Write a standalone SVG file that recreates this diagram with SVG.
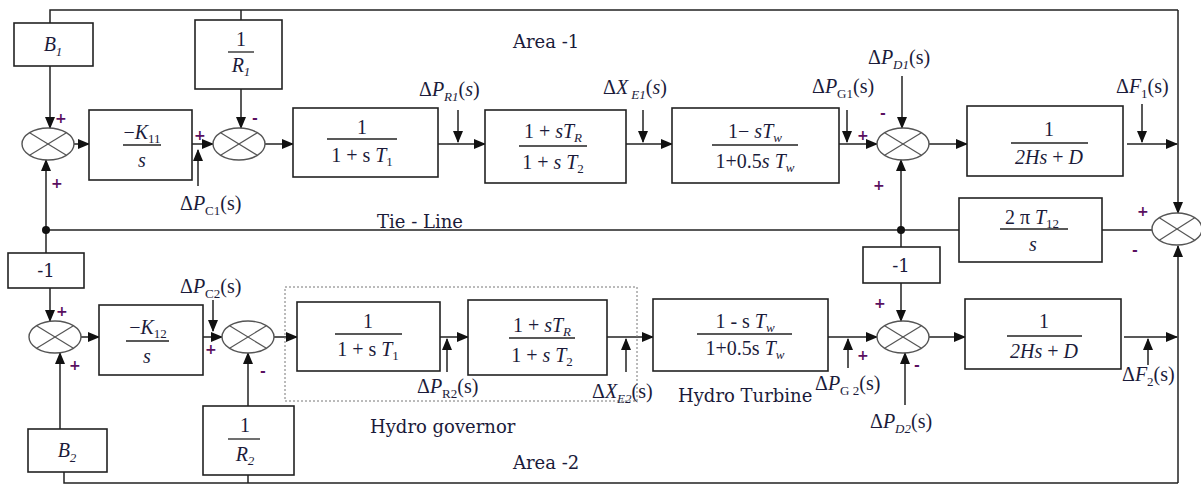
<svg xmlns="http://www.w3.org/2000/svg" width="1201" height="484" viewBox="0 0 1201 484">
<defs>
<marker id="ah" markerWidth="12" markerHeight="10" refX="11" refY="5" orient="auto" markerUnits="userSpaceOnUse">
<path d="M0,0 L12,5 L0,10 Z" fill="#111"/>
</marker>
<style>
.box{fill:#fff;stroke:#222;stroke-width:1.6}
.ln{fill:none;stroke:#222;stroke-width:1.5}
.ar{fill:none;stroke:#222;stroke-width:1.5;marker-end:url(#ah)}
.sum{fill:#fff;stroke:#555;stroke-width:1.4}
.x{stroke:#555;stroke-width:1.2}
.fr{stroke:#222;stroke-width:1.3}
.m{font-family:"Liberation Serif","DejaVu Serif",serif;font-size:20px;fill:#1b1b3a}
.i{font-style:italic}
.sb{font-size:13px}
.t{font-family:"DejaVu Serif","Liberation Serif",serif;font-size:18px;fill:#1b1b3a}
.sg{font-family:"DejaVu Sans",sans-serif;font-size:14px;fill:#5a1060;font-weight:bold}
.dot{fill:#111}
</style>
</defs>

<g id="connectors">
<path class="ln" d="M50,23 V10 H1178"/>
<path class="ln" d="M241,20 V10"/>
<path class="ar" d="M1178,10 V213"/>
<path class="ln" d="M64,472 V483 H1178"/>
<path class="ln" d="M248,475 V483"/>
<path class="ar" d="M1178,483 V246"/>
<path class="ar" d="M50,66 V128"/>
<path class="ar" d="M241,89 V128"/>
<path class="ar" d="M74,144 H89"/>
<path class="ar" d="M192,144 H213"/>
<path class="ar" d="M198,186 V150"/>
<path class="ar" d="M265,144 H293"/>
<path class="ar" d="M438,144 H485"/>
<path class="ar" d="M458,110 V142"/>
<path class="ar" d="M626,144 H672"/>
<path class="ar" d="M643,110 V142"/>
<path class="ar" d="M839,144 H877"/>
<path class="ar" d="M847,110 V142"/>
<path class="ar" d="M902,76 V128"/>
<path class="ar" d="M929,144 H967"/>
<path class="ar" d="M1127,144 H1177"/>
<path class="ar" d="M1142,104 V142"/>
<path class="ln" d="M1152,230 H1102"/>
<path class="ln" d="M959,230 H46"/>
<path class="ar" d="M901,230 V160"/>
<path class="ar" d="M46,230 V160"/>
<path class="ln" d="M46,230 V253"/>
<path class="ln" d="M901,230 V247"/>
<path class="ar" d="M50,288 V321"/>
<path class="ar" d="M60,429 V353"/>
<path class="ar" d="M81,337 H99"/>
<path class="ar" d="M203,337 H222"/>
<path class="ar" d="M213,300 V331"/>
<path class="ar" d="M248,406 V353"/>
<path class="ar" d="M274,337 H297"/>
<path class="ar" d="M440,337 H468"/>
<path class="ar" d="M447,372 V339"/>
<path class="ar" d="M607,337 H653"/>
<path class="ar" d="M626,372 V339"/>
<path class="ar" d="M828,337 H877"/>
<path class="ar" d="M848,368 V339"/>
<path class="ar" d="M901,283 V321"/>
<path class="ar" d="M905,405 V353"/>
<path class="ar" d="M929,337 H965"/>
<path class="ar" d="M1124,337 H1177"/>
<path class="ar" d="M1148,365 V339"/>
<circle class="dot" cx="46" cy="230" r="4"/>
<circle class="dot" cx="901" cy="230" r="4"/>
</g>

<g id="hydro-governor-frame">
<rect x="285" y="287" width="352" height="114" fill="none" stroke="#777" stroke-width="1" stroke-dasharray="2,2"/>
</g>

<g id="B1">
<rect class="box" x="14" y="23" width="79" height="43"/>
<text class="m i" x="53" y="51" text-anchor="middle">B<tspan class="sb" dy="5">1</tspan></text>
</g>
<g id="R1">
<rect class="box" x="195" y="20" width="87" height="69"/>
<text class="m" x="241" y="46" text-anchor="middle">1</text>
<line class="fr" x1="228" y1="52" x2="254" y2="52"/>
<text class="m i" x="241" y="72" text-anchor="middle">R<tspan class="sb" dy="4">1</tspan></text>
</g>
<g id="sum1">
<ellipse class="sum" cx="48" cy="144" rx="26" ry="16"/>
<line class="x" x1="29.6" y1="132.7" x2="66.4" y2="155.3"/>
<line class="x" x1="29.6" y1="155.3" x2="66.4" y2="132.7"/>
</g>
<g id="K11">
<rect class="box" x="89" y="110" width="103" height="70"/>
<text class="m" x="142" y="139" text-anchor="middle">−<tspan class="i">K</tspan><tspan class="sb" dy="4">11</tspan></text>
<line class="fr" x1="123" y1="145" x2="161" y2="145"/>
<text class="m i" x="142" y="167" text-anchor="middle">s</text>
</g>
<g id="sum2">
<ellipse class="sum" cx="239" cy="144" rx="26" ry="16"/>
<line class="x" x1="220.6" y1="132.7" x2="257.4" y2="155.3"/>
<line class="x" x1="220.6" y1="155.3" x2="257.4" y2="132.7"/>
</g>
<g id="gov1">
<rect class="box" x="293" y="108" width="145" height="69"/>
<text class="m" x="362" y="134" text-anchor="middle">1</text>
<line class="fr" x1="327" y1="139" x2="397" y2="139"/>
<text class="m" x="362" y="162" text-anchor="middle">1 + s <tspan class="i">T</tspan><tspan class="sb" dy="4">1</tspan></text>
</g>
<g id="reheat1">
<rect class="box" x="485" y="110" width="141" height="73"/>
<text class="m" x="553" y="138" text-anchor="middle">1 + <tspan class="i">sT</tspan><tspan class="sb i" dy="4">R</tspan></text>
<line class="fr" x1="519" y1="146" x2="587" y2="146"/>
<text class="m" x="553" y="169" text-anchor="middle">1 + <tspan class="i">s T</tspan><tspan class="sb" dy="4">2</tspan></text>
</g>
<g id="turbine1">
<rect class="box" x="672" y="108" width="167" height="75"/>
<text class="m" x="755" y="138" text-anchor="middle">1− <tspan class="i">sT</tspan><tspan class="sb i" dy="4">w</tspan></text>
<line class="fr" x1="712" y1="145" x2="798" y2="145"/>
<text class="m" x="755" y="168" text-anchor="middle">1+0.5<tspan class="i">s T</tspan><tspan class="sb i" dy="4">w</tspan></text>
</g>
<g id="sum3">
<ellipse class="sum" cx="903" cy="144" rx="26" ry="16"/>
<line class="x" x1="884.6" y1="132.7" x2="921.4" y2="155.3"/>
<line class="x" x1="884.6" y1="155.3" x2="921.4" y2="132.7"/>
</g>
<g id="power1">
<rect class="box" x="967" y="106" width="156" height="70"/>
<text class="m" x="1049" y="136" text-anchor="middle">1</text>
<line class="fr" x1="1011" y1="143" x2="1088" y2="143"/>
<text class="m i" x="1049" y="164" text-anchor="middle">2Hs <tspan font-style="normal">+</tspan> D</text>
</g>
<g id="tie">
<rect class="box" x="959" y="198" width="143" height="64"/>
<text class="m" x="1032" y="224" text-anchor="middle">2  π  <tspan class="i">T</tspan><tspan class="sb" dy="4">12</tspan></text>
<line class="fr" x1="1000" y1="229" x2="1068" y2="229"/>
<text class="m i" x="1033" y="251" text-anchor="middle">s</text>
</g>
<g id="sum4">
<ellipse class="sum" cx="1177" cy="229" rx="25" ry="16"/>
<line class="x" x1="1159.3" y1="217.7" x2="1194.7" y2="240.3"/>
<line class="x" x1="1159.3" y1="240.3" x2="1194.7" y2="217.7"/>
</g>

<g id="neg1a">
<rect class="box" x="8" y="253" width="76" height="35"/>
<text class="t" x="46" y="277" text-anchor="middle">-1</text>
</g>
<g id="sum5">
<ellipse class="sum" cx="55" cy="337" rx="26" ry="16"/>
<line class="x" x1="36.6" y1="325.7" x2="73.4" y2="348.3"/>
<line class="x" x1="36.6" y1="348.3" x2="73.4" y2="325.7"/>
</g>
<g id="B2">
<rect class="box" x="28" y="429" width="79" height="43"/>
<text class="m i" x="67" y="457" text-anchor="middle">B<tspan class="sb" dy="5">2</tspan></text>
</g>
<g id="K12">
<rect class="box" x="99" y="305" width="104" height="70"/>
<text class="m" x="148" y="334" text-anchor="middle">−<tspan class="i">K</tspan><tspan class="sb" dy="4">12</tspan></text>
<line class="fr" x1="126" y1="341" x2="169" y2="341"/>
<text class="m i" x="147" y="363" text-anchor="middle">s</text>
</g>
<g id="sum6">
<ellipse class="sum" cx="248" cy="337" rx="26" ry="16"/>
<line class="x" x1="229.6" y1="325.7" x2="266.4" y2="348.3"/>
<line class="x" x1="229.6" y1="348.3" x2="266.4" y2="325.7"/>
</g>
<g id="R2">
<rect class="box" x="203" y="406" width="91" height="69"/>
<text class="m" x="245" y="432" text-anchor="middle">1</text>
<line class="fr" x1="228" y1="439" x2="260" y2="439"/>
<text class="m i" x="245" y="461" text-anchor="middle">R<tspan class="sb" dy="4">2</tspan></text>
</g>
<g id="gov2">
<rect class="box" x="297" y="302" width="143" height="69"/>
<text class="m" x="368" y="328" text-anchor="middle">1</text>
<line class="fr" x1="335" y1="334" x2="402" y2="334"/>
<text class="m" x="368" y="356" text-anchor="middle">1 + s  <tspan class="i">T</tspan><tspan class="sb" dy="4">1</tspan></text>
</g>
<g id="reheat2">
<rect class="box" x="468" y="300" width="139" height="75"/>
<text class="m" x="542" y="332" text-anchor="middle">1 + <tspan class="i">sT</tspan><tspan class="sb i" dy="4">R</tspan></text>
<line class="fr" x1="509" y1="338" x2="575" y2="338"/>
<text class="m" x="542" y="362" text-anchor="middle">1 + <tspan class="i">s T</tspan><tspan class="sb" dy="4">2</tspan></text>
</g>
<g id="turbine2">
<rect class="box" x="653" y="299" width="175" height="72"/>
<text class="m" x="745" y="328" text-anchor="middle">1 - s <tspan class="i">T</tspan><tspan class="sb i" dy="4">w</tspan></text>
<line class="fr" x1="697" y1="334" x2="792" y2="334"/>
<text class="m" x="745" y="355" text-anchor="middle">1+0.5s <tspan class="i">T</tspan><tspan class="sb i" dy="4">w</tspan></text>
</g>
<g id="neg1b">
<rect class="box" x="863" y="247" width="77" height="36"/>
<text class="t" x="901" y="272" text-anchor="middle">-1</text>
</g>
<g id="sum7">
<ellipse class="sum" cx="903" cy="337" rx="26" ry="16"/>
<line class="x" x1="884.6" y1="325.7" x2="921.4" y2="348.3"/>
<line class="x" x1="884.6" y1="348.3" x2="921.4" y2="325.7"/>
</g>
<g id="power2">
<rect class="box" x="965" y="299" width="156" height="70"/>
<text class="m" x="1044" y="328" text-anchor="middle">1</text>
<line class="fr" x1="1007" y1="336" x2="1082" y2="336"/>
<text class="m i" x="1044" y="358" text-anchor="middle">2Hs <tspan font-style="normal">+</tspan> D</text>
</g>

<g id="labels">
<text class="t" x="513" y="48">Area -1</text>
<text class="t" x="377" y="228">Tie - Line</text>
<text class="t" x="370" y="433">Hydro governor</text>
<text class="t" x="678" y="402">Hydro Turbine</text>
<text class="t" x="513" y="469">Area -2</text>
<text class="m" x="419" y="96">Δ<tspan class="i">P</tspan><tspan class="sb i" dy="5">R1</tspan><tspan dy="-5">(<tspan class="i">s</tspan>)</tspan></text>
<text class="m" x="603" y="94">Δ<tspan class="i">X</tspan><tspan class="sb i" dy="5"> E1</tspan><tspan dy="-5">(<tspan class="i">s</tspan>)</tspan></text>
<text class="m" x="812" y="93">Δ<tspan class="i">P</tspan><tspan class="sb" dy="5">G1</tspan><tspan dy="-5">(s)</tspan></text>
<text class="m" x="868" y="64">Δ<tspan class="i">P</tspan><tspan class="sb i" dy="5">D1</tspan><tspan dy="-5">(s)</tspan></text>
<text class="m" x="1116" y="93">Δ<tspan class="i">F</tspan><tspan class="sb" dy="5">1</tspan><tspan dy="-5">(s)</tspan></text>
<text class="m" x="180" y="210">Δ<tspan class="i">P</tspan><tspan class="sb" dy="5">C1</tspan><tspan dy="-5">(s)</tspan></text>
<text class="m" x="180" y="293">Δ<tspan class="i">P</tspan><tspan class="sb" dy="5">C2</tspan><tspan dy="-5">(s)</tspan></text>
<text class="m" x="417" y="393">Δ<tspan class="i">P</tspan><tspan class="sb" dy="5">R2</tspan><tspan dy="-5">(s)</tspan></text>
<text class="m" x="592" y="398">Δ<tspan class="i">X</tspan><tspan class="sb i" dy="5">E2</tspan><tspan dy="-5">(s)</tspan></text>
<text class="m" x="815" y="390">Δ<tspan class="i">P</tspan><tspan class="sb" dy="5">G 2</tspan><tspan dy="-5">(s)</tspan></text>
<text class="m" x="870" y="428">Δ<tspan class="i">P</tspan><tspan class="sb i" dy="5">D2</tspan><tspan dy="-5">(s)</tspan></text>
<text class="m" x="1122" y="381">Δ<tspan class="i">F</tspan><tspan class="sb" dy="5">2</tspan><tspan dy="-5">(s)</tspan></text>
</g>

<g id="signs">
<text class="sg" x="55" y="123">+</text>
<text class="sg" x="51" y="188">+</text>
<text class="sg" x="194" y="140">+</text>
<text class="sg" x="252" y="123">-</text>
<text class="sg" x="857" y="140">+</text>
<text class="sg" x="880" y="118">-</text>
<text class="sg" x="873" y="190">+</text>
<text class="sg" x="1137" y="216">+</text>
<text class="sg" x="1132" y="255">-</text>
<text class="sg" x="56" y="316">+</text>
<text class="sg" x="69" y="370">+</text>
<text class="sg" x="205" y="354">+</text>
<text class="sg" x="260" y="376">-</text>
<text class="sg" x="874" y="308">+</text>
<text class="sg" x="857" y="360">+</text>
<text class="sg" x="914" y="370">-</text>
</g>
</svg>
